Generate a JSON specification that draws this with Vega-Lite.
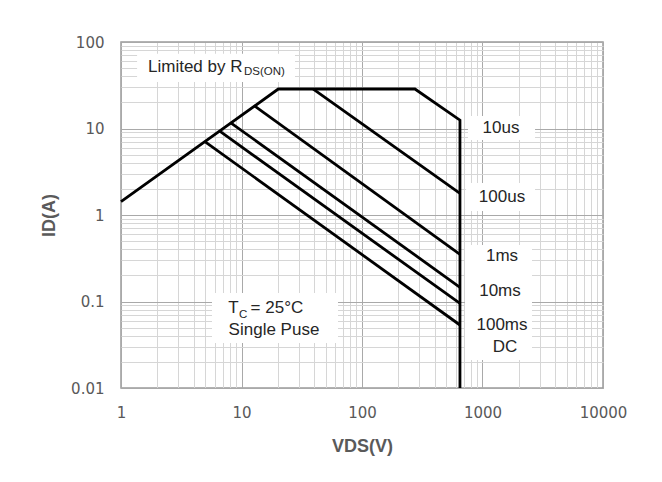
{
  "$schema": "https://vega.github.io/schema/vega-lite/v6.json",
  "width": 482,
  "height": 346,
  "autosize": {"type": "none"},
  "padding": {"left": 121, "top": 42, "right": 59, "bottom": 94},
  "background": "white",
  "config": {"view": {"stroke": "#9b9b9b", "strokeWidth": 1.5}},
  "datasets": {
    "boxes": [
      {"V": 1.36, "V2": 27.8, "I": 73, "I2": 34.5},
      {"V": 758, "V2": 2729, "I": 13.95, "I2": 7.36},
      {"V": 730, "V2": 2729, "I": 2.34, "I2": 1.11},
      {"V": 716, "V2": 2575, "I": 0.45, "I2": 0.0211},
      {"V": 5.69, "V2": 63.2, "I": 0.1254, "I2": 0.0331}
    ],
    "curves": [
      {"s": "env", "o": 1, "V": 1, "I": 1.43},
      {"s": "env", "o": 2, "V": 20.2, "I": 28.6},
      {"s": "env", "o": 3, "V": 275, "I": 28.6},
      {"s": "env", "o": 4, "V": 650, "I": 12.5},
      {"s": "env", "o": 5, "V": 650, "I": 0.01},
      {"s": "100us", "o": 1, "V": 39.4, "I": 28.6},
      {"s": "100us", "o": 2, "V": 650, "I": 1.78},
      {"s": "1ms", "o": 1, "V": 12.8, "I": 18.3},
      {"s": "1ms", "o": 2, "V": 650, "I": 0.351},
      {"s": "10ms", "o": 1, "V": 8.15, "I": 11.65},
      {"s": "10ms", "o": 2, "V": 650, "I": 0.146},
      {"s": "100ms", "o": 1, "V": 6.6, "I": 9.3},
      {"s": "100ms", "o": 2, "V": 650, "I": 0.095},
      {"s": "DC", "o": 1, "V": 5.0, "I": 7.0},
      {"s": "DC", "o": 2, "V": 650, "I": 0.0535}
    ],
    "notes": [
      {"g": "c", "t": "10us", "V": 1425, "I": 10.1},
      {"g": "c", "t": "100us", "V": 1452, "I": 1.61},
      {"g": "c", "t": "1ms", "V": 1452, "I": 0.336},
      {"g": "c", "t": "10ms", "V": 1397, "I": 0.132},
      {"g": "c", "t": "100ms", "V": 1452, "I": 0.0535},
      {"g": "c", "t": "DC", "V": 1537, "I": 0.0298},
      {"g": "c", "t": "Single Puse", "V": 18.6, "I": 0.0469},
      {"g": "l", "t": "Limited by R", "V": 1.675, "I": 51.8},
      {"g": "l", "t": "T", "V": 7.77, "I": 0.0841},
      {"g": "l", "t": "= 25°C", "V": 11.9, "I": 0.0841},
      {"g": "s", "t": "DS(ON)", "V": 10.49, "I": 45.4},
      {"g": "s", "t": "C", "V": 9.53, "I": 0.0698}
    ]
  },
  "layer": [
    {
      "data": {"name": "boxes"},
      "mark": {"type": "rect", "fill": "white", "stroke": null},
      "encoding": {
        "x": {
          "field": "V", "type": "quantitative",
          "scale": {"type": "log", "domain": [1, 10000], "nice": false},
          "title": "VDS(V)",
          "axis": {
            "values": [1,2,3,4,5,6,7,8,9,10,20,30,40,50,60,70,80,90,100,200,300,400,500,600,700,800,900,1000,2000,3000,4000,5000,6000,7000,8000,9000,10000],
            "labelExpr": "indexof([1,10,100,1000,10000], datum.value) >= 0 ? format(datum.value, '~g') : ''",
            "labelOverlap": false,
            "labelFlush": false,
            "ticks": false,
            "domain": false,
            "grid": true,
            "gridColor": {"condition": {"test": "indexof([1,10,100,1000,10000], datum.value) >= 0", "value": "#a9a9a9"}, "value": "#d6d6d6"},
            "gridWidth": 1,
            "labelFont": "DejaVu Sans",
            "labelFontSize": 15,
            "labelColor": "#595959",
            "labelPadding": 17,
            "titleFont": "Liberation Sans",
            "titleFontSize": 18,
            "titleFontWeight": "bold",
            "titleColor": "#5a5a5a",
            "titlePadding": 17
          }
        },
        "x2": {"field": "V2"},
        "y": {
          "field": "I", "type": "quantitative",
          "scale": {"type": "log", "domain": [0.01, 100], "nice": false},
          "title": "ID(A)",
          "axis": {
            "values": [0.01,0.02,0.03,0.04,0.05,0.06,0.07,0.08,0.09,0.1,0.2,0.3,0.4,0.5,0.6,0.7,0.8,0.9,1,2,3,4,5,6,7,8,9,10,20,30,40,50,60,70,80,90,100],
            "labelExpr": "indexof([0.01,0.1,1,10,100], datum.value) >= 0 ? format(datum.value, '~g') : ''",
            "labelOverlap": false,
            "labelFlush": false,
            "ticks": false,
            "domain": false,
            "grid": true,
            "gridColor": {"condition": {"test": "indexof([0.01,0.1,1,10,100], datum.value) >= 0", "value": "#a9a9a9"}, "value": "#d6d6d6"},
            "gridWidth": 1,
            "labelFont": "DejaVu Sans",
            "labelFontSize": 15,
            "labelColor": "#595959",
            "labelPadding": 17,
            "titleFont": "Liberation Sans",
            "titleFontSize": 18,
            "titleFontWeight": "bold",
            "titleColor": "#5a5a5a",
            "titlePadding": 12
          }
        },
        "y2": {"field": "I2"}
      }
    },
    {
      "data": {"name": "curves"},
      "mark": {"type": "line", "color": "black", "strokeWidth": 2.8, "strokeJoin": "miter"},
      "encoding": {
        "x": {"field": "V", "type": "quantitative"},
        "y": {"field": "I", "type": "quantitative"},
        "detail": {"field": "s"},
        "order": {"field": "o", "type": "quantitative"}
      }
    },
    {
      "data": {"name": "notes"},
      "transform": [{"filter": "datum.g == 'c'"}],
      "mark": {"type": "text", "align": "center", "baseline": "middle", "font": "Liberation Sans", "fontSize": 17, "color": "#262626"},
      "encoding": {
        "x": {"field": "V", "type": "quantitative"},
        "y": {"field": "I", "type": "quantitative"},
        "text": {"field": "t"}
      }
    },
    {
      "data": {"name": "notes"},
      "transform": [{"filter": "datum.g == 'l'"}],
      "mark": {"type": "text", "align": "left", "baseline": "middle", "font": "Liberation Sans", "fontSize": 17, "color": "#262626"},
      "encoding": {
        "x": {"field": "V", "type": "quantitative"},
        "y": {"field": "I", "type": "quantitative"},
        "text": {"field": "t"}
      }
    },
    {
      "data": {"name": "notes"},
      "transform": [{"filter": "datum.g == 's'"}],
      "mark": {"type": "text", "align": "left", "baseline": "middle", "font": "Liberation Sans", "fontSize": 11.5, "color": "#262626"},
      "encoding": {
        "x": {"field": "V", "type": "quantitative"},
        "y": {"field": "I", "type": "quantitative"},
        "text": {"field": "t"}
      }
    }
  ]
}
